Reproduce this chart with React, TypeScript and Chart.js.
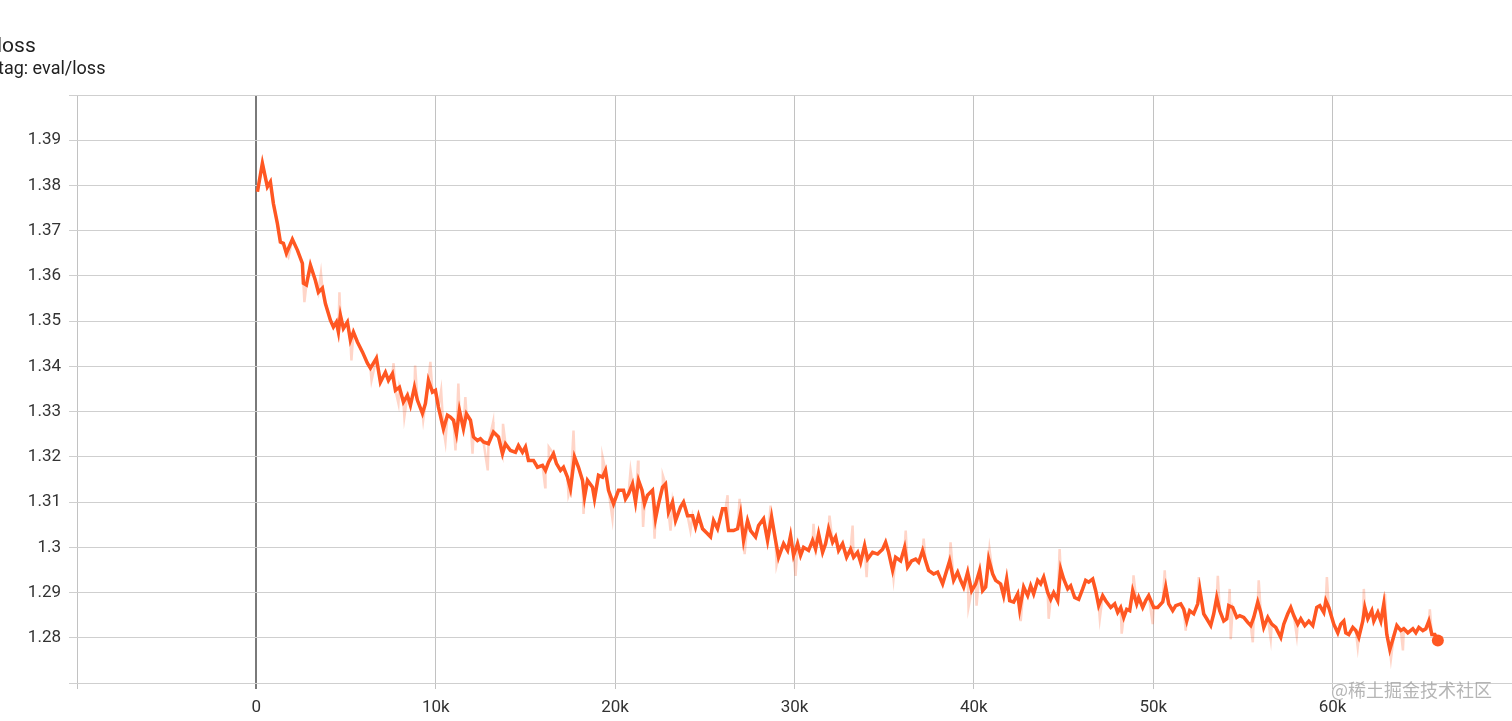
import React, { useEffect, useRef } from 'react';
import { Chart, registerables } from 'chart.js';

Chart.register(...registerables);

// ---- data ----
const titleText = 'loss';
const tagText = 'tag: eval/loss';
const watermark = '@稀土掘金技术社区';

const xTickValues = [0, 10000, 20000, 30000, 40000, 50000, 60000];
const yTickValues = [1.28, 1.29, 1.3, 1.31, 1.32, 1.33, 1.34, 1.35, 1.36, 1.37, 1.38, 1.39];

// smoothed curve (step, loss)
const steps = [
  60, 335, 613, 781, 948, 1171, 1338, 1506, 1673, 2008,
  2287, 2565, 2621, 2789, 3012, 3290, 3458, 3681, 3848, 4127,
  4294, 4462, 4573, 4685, 4852, 5075, 5242, 5410, 5633, 5912,
  6190, 6358, 6692, 6915, 7194, 7362, 7585, 7752, 7975, 8198,
  8421, 8589, 8812, 8979, 9258, 9425, 9592, 9816, 9983, 10150,
  10429, 10652, 10819, 10987, 11154, 11321, 11544, 11712, 11935, 12102,
  12325, 12492, 12660, 12939, 13217, 13496, 13719, 13887, 14166, 14444,
  14612, 14835, 15002, 15169, 15448, 15671, 15950, 16118, 16285, 16564,
  16731, 16954, 17121, 17344, 17512, 17735, 17958, 18181, 18293, 18460,
  18739, 18850, 19073, 19296, 19464, 19631, 19910, 20189, 20467, 20579,
  20746, 20970, 21137, 21304, 21500, 21640, 21806, 22085, 22252, 22420,
  22643, 22810, 22977, 23200, 23368, 23647, 23814, 24037, 24316, 24483,
  24650, 24873, 25152, 25320, 25487, 25710, 25989, 26156, 26323, 26602,
  26825, 26993, 27160, 27383, 27550, 27829, 27997, 28275, 28498, 28722,
  28945, 29112, 29391, 29614, 29781, 29948, 30172, 30339, 30506, 30785,
  31008, 31175, 31343, 31566, 31733, 31900, 32124, 32291, 32458, 32681,
  32904, 33127, 33295, 33518, 33685, 33908, 34076, 34354, 34633, 34912,
  35079, 35247, 35470, 35637, 35916, 36139, 36306, 36529, 36752, 36920,
  37143, 37310, 37477, 37756, 37979, 38258, 38425, 38649, 38872, 39095,
  39262, 39429, 39653, 39876, 40099, 40322, 40489, 40656, 40824, 41047,
  41214, 41493, 41660, 41828, 41995, 42218, 42441, 42553, 42776, 42999,
  43166, 43333, 43556, 43724, 43891, 44114, 44281, 44449, 44672, 44839,
  45006, 45230, 45397, 45620, 45843, 46066, 46233, 46401, 46624, 46791,
  46958, 47181, 47349, 47628, 47851, 48018, 48185, 48353, 48520, 48687,
  48855, 49078, 49189, 49412, 49580, 49747, 50026, 50249, 50528, 50695,
  50862, 51085, 51253, 51531, 51699, 51866, 52033, 52256, 52480, 52591,
  52814, 52982, 53205, 53372, 53539, 53707, 53930, 54097, 54208, 54432,
  54655, 54822, 55045, 55268, 55436, 55603, 55826, 55994, 56161, 56384,
  56607, 56830, 57109, 57276, 57499, 57667, 57834, 58057, 58225, 58448,
  58671, 58894, 59117, 59285, 59508, 59620, 59787, 60065, 60288, 60456,
  60623, 60735, 60902, 61125, 61292, 61460, 61683, 61794, 61962, 62185,
  62296, 62519, 62687, 62854, 63022, 63189, 63412, 63580, 63803, 63970,
  64193, 64472, 64640, 64807, 65030, 65197, 65365, 65532, 65699, 65866,
];

const loss = [
  1.3786, 1.3849, 1.3797, 1.3808, 1.3760, 1.3716, 1.3675, 1.3672, 1.3650, 1.3681,
  1.3657, 1.3628, 1.3584, 1.3580, 1.3624, 1.3590, 1.3564, 1.3573, 1.3539, 1.3502,
  1.3487, 1.3498, 1.3476, 1.3513, 1.3484, 1.3498, 1.3458, 1.3476, 1.3454, 1.3432,
  1.3407, 1.3396, 1.3418, 1.3365, 1.3387, 1.3369, 1.3384, 1.3347, 1.3354, 1.3321,
  1.3336, 1.3314, 1.3354, 1.3325, 1.3296, 1.3318, 1.3369, 1.3343, 1.3347, 1.3310,
  1.3262, 1.3292, 1.3288, 1.3281, 1.3251, 1.3303, 1.3262, 1.3295, 1.3281, 1.3244,
  1.3236, 1.3240, 1.3233, 1.3229, 1.3255, 1.3244, 1.3207, 1.3229, 1.3214, 1.3210,
  1.3225, 1.3210, 1.3222, 1.3192, 1.3192, 1.3177, 1.3181, 1.3170, 1.3188, 1.3207,
  1.3185, 1.3170, 1.3177, 1.3155, 1.3129, 1.3200, 1.3177, 1.3148, 1.3111, 1.3148,
  1.3133, 1.3107, 1.3159, 1.3155, 1.3170, 1.3126, 1.3096, 1.3126, 1.3126, 1.3107,
  1.3118, 1.3140, 1.3100, 1.3148, 1.3126, 1.3096, 1.3115, 1.3126, 1.3063, 1.3096,
  1.3133, 1.3140, 1.3078, 1.3100, 1.3059, 1.3089, 1.3100, 1.3070, 1.3070, 1.3045,
  1.3070, 1.3041, 1.3030, 1.3023, 1.3059, 1.3041, 1.3085, 1.3085, 1.3037, 1.3037,
  1.3041, 1.3074, 1.3015, 1.3059, 1.3037, 1.3023, 1.3048, 1.3063, 1.3015, 1.3067,
  1.3015, 1.2978, 1.3008, 1.2993, 1.3026, 1.2982, 1.3008, 1.2982, 1.3000, 1.2993,
  1.3015, 1.2996, 1.3030, 1.2989, 1.3008, 1.3041, 1.3011, 1.3023, 1.2993, 1.3008,
  1.2978, 1.2996, 1.2978, 1.2989, 1.2967, 1.3004, 1.2974, 1.2989, 1.2985, 1.2996,
  1.3011, 1.2989, 1.2949, 1.2978, 1.2970, 1.3000, 1.2956, 1.2970, 1.2974, 1.2967,
  1.2993, 1.2970, 1.2949, 1.2941, 1.2945, 1.2919, 1.2941, 1.2970, 1.2927, 1.2945,
  1.2927, 1.2912, 1.2945, 1.2904, 1.2919, 1.2949, 1.2904, 1.2912, 1.2974, 1.2941,
  1.2927, 1.2919, 1.2893, 1.2930, 1.2882, 1.2879, 1.2897, 1.2863, 1.2912, 1.2893,
  1.2915, 1.2897, 1.2927, 1.2919, 1.2934, 1.2900, 1.2885, 1.2900, 1.2882, 1.2952,
  1.2930, 1.2908, 1.2915, 1.2889, 1.2885, 1.2908, 1.2927, 1.2923, 1.2930, 1.2904,
  1.2871, 1.2893, 1.2882, 1.2867, 1.2875, 1.2856, 1.2867, 1.2845, 1.2863, 1.2860,
  1.2904, 1.2875, 1.2889, 1.2867, 1.2882, 1.2893, 1.2867, 1.2867, 1.2879, 1.2912,
  1.2875, 1.2860, 1.2871, 1.2875, 1.2863, 1.2837, 1.2860, 1.2853, 1.2875, 1.2908,
  1.2853, 1.2842, 1.2827, 1.2853, 1.2889, 1.2860, 1.2837, 1.2842, 1.2871, 1.2867,
  1.2845, 1.2849, 1.2845, 1.2834, 1.2827, 1.2845, 1.2879, 1.2856, 1.2823, 1.2845,
  1.2830, 1.2823, 1.2801, 1.2830, 1.2853, 1.2867, 1.2849, 1.2830, 1.2842, 1.2827,
  1.2837, 1.2827, 1.2867, 1.2871, 1.2856, 1.2882, 1.2867, 1.2830, 1.2811, 1.2830,
  1.2837, 1.2811, 1.2807, 1.2823, 1.2816, 1.2801, 1.2837, 1.2867, 1.2842, 1.2860,
  1.2837, 1.2856, 1.2837, 1.2875, 1.2807, 1.2774, 1.2804, 1.2827, 1.2816, 1.2820,
  1.2811, 1.2820, 1.2811, 1.2823, 1.2816, 1.2820, 1.2837, 1.2807, 1.2807, 1.2794,
];

// raw (unsmoothed) excursions visible as faint spikes
const spikeSteps = [
  1785, 2677, 3600, 4630, 5300, 6420, 7650, 7920, 8250, 8850,
  9300, 9700, 10300, 10540, 11100, 11260, 11650, 12050, 12900, 13200,
  13750, 16100, 16300, 17400, 17680, 18240, 19300, 19850, 20860, 21280,
  21560, 22200, 22660, 23090, 24200, 26270, 26940, 27220, 28670, 29000,
  30060, 31060, 31950, 33240, 34020, 35520, 36200, 37200, 38700, 39700,
  40150, 40870, 42610, 44170, 44780, 47020, 48240, 48900, 49970, 50640,
  51810, 52540, 53600, 54260, 54320, 55550, 55880, 56550, 58000, 59680,
  61400, 61740, 62920, 63250, 63920, 65420,
];
const spikeLoss = [
  1.3642, 1.3542, 1.3606, 1.3564, 1.3413, 1.3369, 1.3407, 1.3318, 1.3288, 1.3402,
  1.3281, 1.3410, 1.3347, 1.3233, 1.3214, 1.3362, 1.3332, 1.3207, 1.3170, 1.3277,
  1.3273, 1.3133, 1.3222, 1.3115, 1.3258, 1.3074, 1.3200, 1.3063, 1.3170, 1.3192,
  1.3045, 1.3019, 1.3159, 1.3037, 1.3037, 1.3115, 1.3107, 1.2985, 1.3092, 1.2960,
  1.2937, 1.3052, 1.3070, 1.3048, 1.2934, 1.2930, 1.3037, 1.3019, 1.3011, 1.2867,
  1.2871, 1.2996, 1.2837, 1.2842, 1.2996, 1.2842, 1.2809, 1.2938, 1.2830, 1.2949,
  1.2816, 1.2934, 1.2937, 1.2908, 1.2797, 1.2790, 1.2927, 1.2797, 1.2804, 1.2934,
  1.2779, 1.2908, 1.2897, 1.2753, 1.2772, 1.2863,
];

const X_MIN = -10000;
const X_MAX = 70000;
const Y_MIN = 1.27;
const Y_MAX = 1.4;

const ORANGE = '#ff5722';
const ORANGE_FAINT = 'rgba(255, 87, 34, 0.25)';

export default function App() {
  const canvasRef = useRef<HTMLCanvasElement | null>(null);

  useEffect(() => {
    if (!canvasRef.current) return;
    const main = steps.map((s, i) => ({ x: s, y: loss[i] }));
    const raw = main
      .concat(spikeSteps.map((s, i) => ({ x: s, y: spikeLoss[i] })))
      .sort((a, b) => a.x - b.x);
    const lastIdx = main.length - 1;

    const chart = new Chart(canvasRef.current, {
      type: 'line',
      data: {
        datasets: [
          {
            data: main,
            borderColor: ORANGE,
            backgroundColor: ORANGE,
            borderWidth: 3.5,
            tension: 0,
            pointRadius: (ctx: any) => (ctx.dataIndex === lastIdx ? 6 : 0),
            pointBackgroundColor: ORANGE,
            pointBorderWidth: 0,
            pointHoverRadius: 0,
          },
          {
            data: raw,
            borderColor: ORANGE_FAINT,
            borderWidth: 2.5,
            tension: 0,
            pointRadius: 0,
            pointHoverRadius: 0,
          },
        ],
      },
      options: {
        animation: false,
        responsive: false,
        maintainAspectRatio: false,
        events: [],
        layout: { autoPadding: false, padding: { top: 95, left: 0, right: 0, bottom: 0 } },
        plugins: { legend: { display: false }, tooltip: { enabled: false }, title: { display: false } },
        scales: {
          x: {
            type: 'linear',
            min: X_MIN,
            max: X_MAX,
            afterBuildTicks: (axis: any) => {
              axis.ticks = [X_MIN, ...xTickValues, X_MAX].map((v) => ({ value: v }));
            },
            afterFit: (axis: any) => {
              axis.height = 38;
              axis.paddingLeft = 0;
              axis.paddingRight = 0;
            },
            ticks: {
              autoSkip: false,
              maxRotation: 0,
              padding: 9,
              color: '#333333',
              font: { family: 'Roboto', size: 17 },
              callback: (v: any) => {
                const n = Number(v);
                if (!xTickValues.includes(n)) return '';
                return n === 0 ? '0' : n / 1000 + 'k';
              },
            },
            grid: {
              color: (ctx: any) => (ctx.tick && ctx.tick.value === 0 ? '#7a7a7a' : '#c2c2c2'),
              lineWidth: (ctx: any) => (ctx.tick && ctx.tick.value === 0 ? 2 : 1),
              tickLength: 6,
            },
            border: { display: false },
          },
          y: {
            type: 'linear',
            min: Y_MIN,
            max: Y_MAX,
            afterBuildTicks: (axis: any) => {
              axis.ticks = [Y_MIN, ...yTickValues, Y_MAX].map((v) => ({ value: v }));
            },
            afterFit: (axis: any) => {
              axis.width = 77;
              axis.paddingTop = 0;
              axis.paddingBottom = 0;
            },
            ticks: {
              autoSkip: false,
              padding: 8,
              color: '#333333',
              font: { family: 'Roboto', size: 17 },
              callback: (v: any) => {
                const n = Math.round(Number(v) * 100) / 100;
                if (!yTickValues.includes(n)) return '';
                return String(n);
              },
            },
            grid: {
              color: '#cfcfcf',
              lineWidth: 1,
              tickLength: 8,
            },
            border: { display: false },
          },
        },
      },
    });
    return () => chart.destroy();
  }, []);

  return (
    <div style={{ position: 'absolute', left: 0, top: 0, width: 1512, height: 721, overflow: 'hidden', background: '#fff' }}>
      <canvas ref={canvasRef} width={1512} height={721} style={{ position: 'absolute', left: 0, top: 0, display: 'block' }} />
      <div
        style={{
          position: 'absolute', left: -3, top: 35, fontFamily: 'Roboto', fontSize: 21,
          lineHeight: '20px', color: '#212121', whiteSpace: 'nowrap',
        }}
      >
        {titleText}
      </div>
      <div
        style={{
          position: 'absolute', left: -2, top: 59, fontFamily: 'Roboto', fontSize: 18,
          lineHeight: '18px', color: '#212121', whiteSpace: 'nowrap',
        }}
      >
        {tagText}
      </div>
      <div
        style={{
          position: 'absolute', left: 1331, top: 680, fontFamily: '"Noto Sans CJK SC", Roboto', fontSize: 18,
          lineHeight: '19px', color: 'rgba(150,150,150,0.7)', whiteSpace: 'nowrap',
        }}
      >
        {watermark}
      </div>
    </div>
  );
}
